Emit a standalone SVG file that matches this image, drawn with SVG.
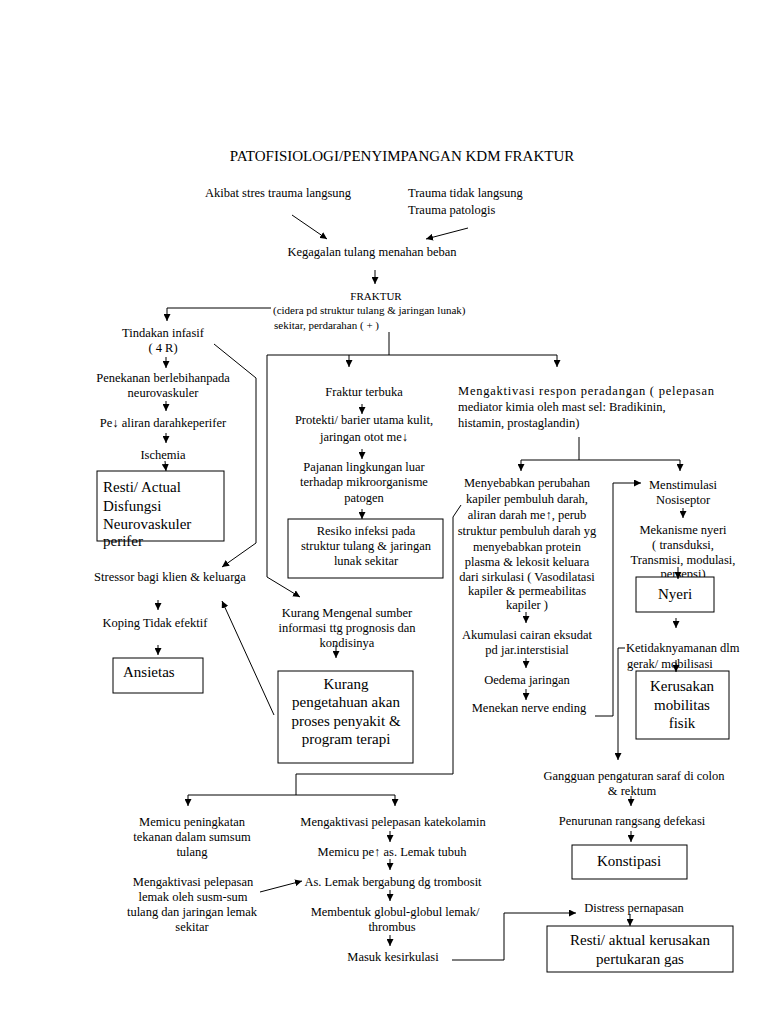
<svg xmlns="http://www.w3.org/2000/svg" width="768" height="1024" viewBox="0 0 768 1024">
<style>
text{font-family:"Liberation Serif","Times New Roman",serif;font-size:12.5px;fill:#000}
.m{text-anchor:middle}
.s{font-size:11px}
.b{font-size:15px}
.title{font-size:15px}
.box{fill:none;stroke:#000;stroke-width:1}
.c line,.c polyline{fill:none;stroke:#000;stroke-width:1}
</style>
<defs>
<marker id="ah" viewBox="0 0 8 8" refX="8" refY="4" markerWidth="7" markerHeight="7" markerUnits="userSpaceOnUse" orient="auto">
<path d="M0,0 L8,4 L0,8 z" fill="#000"/>
</marker>
</defs>
<rect width="768" height="1024" fill="#fff"/>

<g id="title"><text class="m title" x="402" y="161">PATOFISIOLOGI/PENYIMPANGAN KDM FRAKTUR</text></g>

<g id="n-akibat"><text class="m" x="278" y="197">Akibat stres trauma langsung</text></g>
<g id="n-trauma"><text x="408" y="197">Trauma tidak langsung</text><text x="408" y="214">Trauma patologis</text></g>
<g id="n-kegagalan"><text class="m" x="372" y="256">Kegagalan tulang menahan beban</text></g>
<g id="n-fraktur"><text class="m s" x="376" y="300">FRAKTUR</text><text class="s" x="273" y="313.5">(cidera pd struktur tulang &amp; jaringan lunak)</text><text class="s" x="274" y="328.5">sekitar, perdarahan ( + )</text></g>

<g id="n-tindakan"><text class="m" x="163" y="337">Tindakan infasif</text><text class="m" x="163" y="352">( 4 R)</text></g>
<g id="n-penekanan"><text class="m" x="163" y="382">Penekanan berlebihanpada</text><text class="m" x="163" y="397">neurovaskuler</text></g>
<g id="n-pe"><text class="m" x="163" y="427">Pe↓ aliran darahkeperifer</text></g>
<g id="n-ischemia"><text class="m" x="163" y="459">Ischemia</text></g>
<g id="n-resti1"><rect class="box" x="97" y="471" width="127" height="70"/><text class="b" x="103" y="492">Resti/ Actual</text><text class="b" x="103" y="511">Disfungsi</text><text class="b" x="103" y="529">Neurovaskuler</text><text class="b" x="103" y="546">perifer</text></g>
<g id="n-stressor"><text class="m" x="170" y="581">Stressor bagi klien &amp; keluarga</text></g>
<g id="n-koping"><text class="m" x="155" y="627">Koping Tidak efektif</text></g>
<g id="n-ansietas"><rect class="box" x="113" y="658" width="90" height="35"/><text class="b" x="123" y="677">Ansietas</text></g>

<g id="n-terbuka"><text class="m" x="364" y="396">Fraktur terbuka</text></g>
<g id="n-protekti"><text class="m" x="364" y="424">Protekti/ barier utama kulit,</text><text class="m" x="364" y="441">jaringan otot me↓</text></g>
<g id="n-pajanan"><text class="m" x="364" y="471">Pajanan lingkungan luar</text><text class="m" x="364" y="486">terhadap mikroorganisme</text><text class="m" x="364" y="502">patogen</text></g>
<g id="n-resiko"><rect class="box" x="288" y="519" width="155" height="59"/><text class="m" x="366" y="535">Resiko infeksi pada</text><text class="m" x="366" y="550">struktur tulang &amp; jaringan</text><text class="m" x="366" y="565">lunak sekitar</text></g>
<g id="n-kurangmengenal"><text class="m" x="347" y="617">Kurang Mengenal sumber</text><text class="m" x="347" y="632">informasi ttg prognosis dan</text><text class="m" x="347" y="647">kondisinya</text></g>
<g id="n-kurangpengetahuan"><rect class="box" x="278" y="671" width="135" height="92"/><text class="m b" x="346" y="689">Kurang</text><text class="m b" x="346" y="707">pengetahuan akan</text><text class="m b" x="346" y="726">proses penyakit &amp;</text><text class="m b" x="346" y="744">program terapi</text></g>

<g id="n-mengaktivasi"><text x="458" y="395" textLength="256" lengthAdjust="spacing">Mengaktivasi respon peradangan ( pelepasan</text><text x="458" y="411">mediator kimia oleh mast sel: Bradikinin,</text><text x="458" y="427">histamin, prostaglandin)</text></g>
<g id="n-menyebabkan"><text class="m" x="527" y="487">Menyebabkan perubahan</text><text class="m" x="527" y="503">kapiler pembuluh darah,</text><text class="m" x="527" y="519">aliran darah me↑, perub</text><text class="m" x="527" y="535">struktur pembuluh darah yg</text><text class="m" x="527" y="551">menyebabkan protein</text><text class="m" x="527" y="566">plasma &amp; lekosit keluara</text><text class="m" x="527" y="581">dari sirkulasi ( Vasodilatasi</text><text class="m" x="527" y="595">kapiler &amp; permeabilitas</text><text class="m" x="527" y="609">kapiler )</text></g>
<g id="n-akumulasi"><text class="m" x="527" y="639">Akumulasi cairan eksudat</text><text class="m" x="527" y="654">pd jar.interstisial</text></g>
<g id="n-oedema"><text class="m" x="527" y="684">Oedema jaringan</text></g>
<g id="n-menekan"><text class="m" x="529" y="712">Menekan nerve ending</text></g>

<g id="n-menstimulasi"><text class="m" x="683" y="489">Menstimulasi</text><text class="m" x="683" y="504">Nosiseptor</text></g>
<g id="n-mekanisme"><text class="m" x="683" y="534">Mekanisme nyeri</text><text class="m" x="683" y="549">( transduksi,</text><text class="m" x="683" y="564">Transmisi, modulasi,</text><text class="m" x="683" y="578">persepsi)</text></g>
<g id="n-nyeri"><rect class="box" x="636" y="577" width="78" height="35" style="fill:#fff"/><text class="m b" x="675" y="599">Nyeri</text></g>
<g id="n-ketidaknyamanan"><text x="626" y="652">Ketidaknyamanan dlm</text><text x="627" y="668">gerak/ mobilisasi</text></g>
<g id="n-kerusakan"><rect class="box" x="636" y="671" width="93" height="68"/><text class="m b" x="682" y="691">Kerusakan</text><text class="m b" x="682" y="710">mobilitas</text><text class="m b" x="682" y="728">fisik</text></g>
<g id="n-gangguan"><text class="m" x="634" y="780">Gangguan pengaturan saraf di colon</text><text class="m" x="632" y="795">&amp; rektum</text></g>
<g id="n-penurunan"><text class="m" x="632" y="825">Penurunan rangsang defekasi</text></g>
<g id="n-konstipasi"><rect class="box" x="572" y="845" width="115" height="34"/><text class="m b" x="629" y="866">Konstipasi</text></g>
<g id="n-distress"><text class="m" x="634" y="912">Distress pernapasan</text></g>
<g id="n-resti2"><rect class="box" x="547" y="926" width="186" height="46"/><text class="m b" x="640" y="945">Resti/ aktual kerusakan</text><text class="m b" x="640" y="964">pertukaran gas</text></g>

<g id="n-memicu"><text class="m" x="192" y="826">Memicu peningkatan</text><text class="m" x="192" y="841">tekanan dalam sumsum</text><text class="m" x="192" y="856">tulang</text></g>
<g id="n-pelepasanlemak"><text class="m" x="193" y="886">Mengaktivasi pelepasan</text><text class="m" x="193" y="901">lemak oleh susm-sum</text><text class="m" x="192" y="916">tulang dan jaringan lemak</text><text class="m" x="192" y="931">sekitar</text></g>
<g id="n-katekolamin"><text class="m" x="393" y="826">Mengaktivasi pelepasan katekolamin</text></g>
<g id="n-memicupe"><text class="m" x="392" y="856">Memicu pe↑ as. Lemak tubuh</text></g>
<g id="n-bergabung"><text class="m" x="393" y="886">As. Lemak bergabung dg trombosit</text></g>
<g id="n-globul"><text class="m" x="395" y="916">Membentuk globul-globul lemak/</text><text class="m" x="392" y="931">thrombus</text></g>
<g id="n-masuk"><text class="m" x="393" y="961">Masuk kesirkulasi</text></g>

<g id="connectors" class="c">
<line x1="292" y1="215" x2="327" y2="239" marker-end="url(#ah)"/>
<line x1="468" y1="228" x2="426" y2="239" marker-end="url(#ah)"/>
<line x1="375" y1="270" x2="375" y2="284" marker-end="url(#ah)"/>
<polyline points="271,308 167,308 167,321" marker-end="url(#ah)"/>
<line x1="389" y1="332" x2="389" y2="355"/>
<line x1="267" y1="355" x2="557" y2="355"/>
<line x1="349" y1="355" x2="349" y2="367" marker-end="url(#ah)"/>
<line x1="557" y1="355" x2="557" y2="367" marker-end="url(#ah)"/>
<polyline points="267,355 267,577 300,597" marker-end="url(#ah)"/>
<line x1="166" y1="357" x2="166" y2="368" marker-end="url(#ah)"/>
<line x1="166" y1="401" x2="166" y2="411" marker-end="url(#ah)"/>
<line x1="166" y1="433" x2="166" y2="443" marker-end="url(#ah)"/>
<line x1="165" y1="461" x2="166" y2="471" marker-end="url(#ah)"/>
<polyline points="214,344 256,378 256,543 222,567" marker-end="url(#ah)"/>
<line x1="158" y1="600" x2="158" y2="610" marker-end="url(#ah)"/>
<line x1="158" y1="645" x2="158" y2="655" marker-end="url(#ah)"/>
<line x1="274" y1="715" x2="222" y2="601" marker-end="url(#ah)"/>
<line x1="362" y1="404" x2="362" y2="414" marker-end="url(#ah)"/>
<line x1="362" y1="449" x2="362" y2="459" marker-end="url(#ah)"/>
<line x1="362" y1="509" x2="362" y2="519" marker-end="url(#ah)"/>
<line x1="336" y1="645" x2="336" y2="658" marker-end="url(#ah)"/>
<line x1="579" y1="437" x2="579" y2="460"/>
<line x1="521" y1="460" x2="680" y2="460"/>
<line x1="521" y1="460" x2="521" y2="471" marker-end="url(#ah)"/>
<line x1="680" y1="460" x2="680" y2="471" marker-end="url(#ah)"/>
<line x1="526" y1="612" x2="526" y2="623" marker-end="url(#ah)"/>
<line x1="526" y1="658" x2="526" y2="668" marker-end="url(#ah)"/>
<line x1="526" y1="689" x2="526" y2="700" marker-end="url(#ah)"/>
<polyline points="595,716 613,716 613,483 641,483" marker-end="url(#ah)"/>
<polyline points="461,505 453,517 453,774 296,774 296,795"/>
<line x1="188" y1="795" x2="395" y2="795"/>
<line x1="188" y1="795" x2="188" y2="806" marker-end="url(#ah)"/>
<line x1="395" y1="795" x2="395" y2="806" marker-end="url(#ah)"/>
<line x1="683" y1="508" x2="683" y2="518" marker-end="url(#ah)"/>
<line x1="678" y1="567" x2="678" y2="579" marker-end="url(#ah)"/>
<line x1="676" y1="618" x2="676" y2="628" marker-end="url(#ah)"/>
<polyline points="625,648 618,648 618,760" marker-end="url(#ah)"/>
<line x1="676" y1="660" x2="676" y2="672" marker-end="url(#ah)"/>
<line x1="631" y1="796" x2="631" y2="806" marker-end="url(#ah)"/>
<line x1="631" y1="831" x2="631" y2="842" marker-end="url(#ah)"/>
<polyline points="452,960 504,960 504,913 576,913" marker-end="url(#ah)"/>
<line x1="630" y1="914" x2="630" y2="926" marker-end="url(#ah)"/>
<line x1="390" y1="831" x2="390" y2="842" marker-end="url(#ah)"/>
<line x1="390" y1="859" x2="390" y2="870" marker-end="url(#ah)"/>
<line x1="390" y1="890" x2="390" y2="901" marker-end="url(#ah)"/>
<line x1="390" y1="935" x2="390" y2="946" marker-end="url(#ah)"/>
<line x1="260" y1="892" x2="302" y2="881" marker-end="url(#ah)"/>
</g>
</svg>
